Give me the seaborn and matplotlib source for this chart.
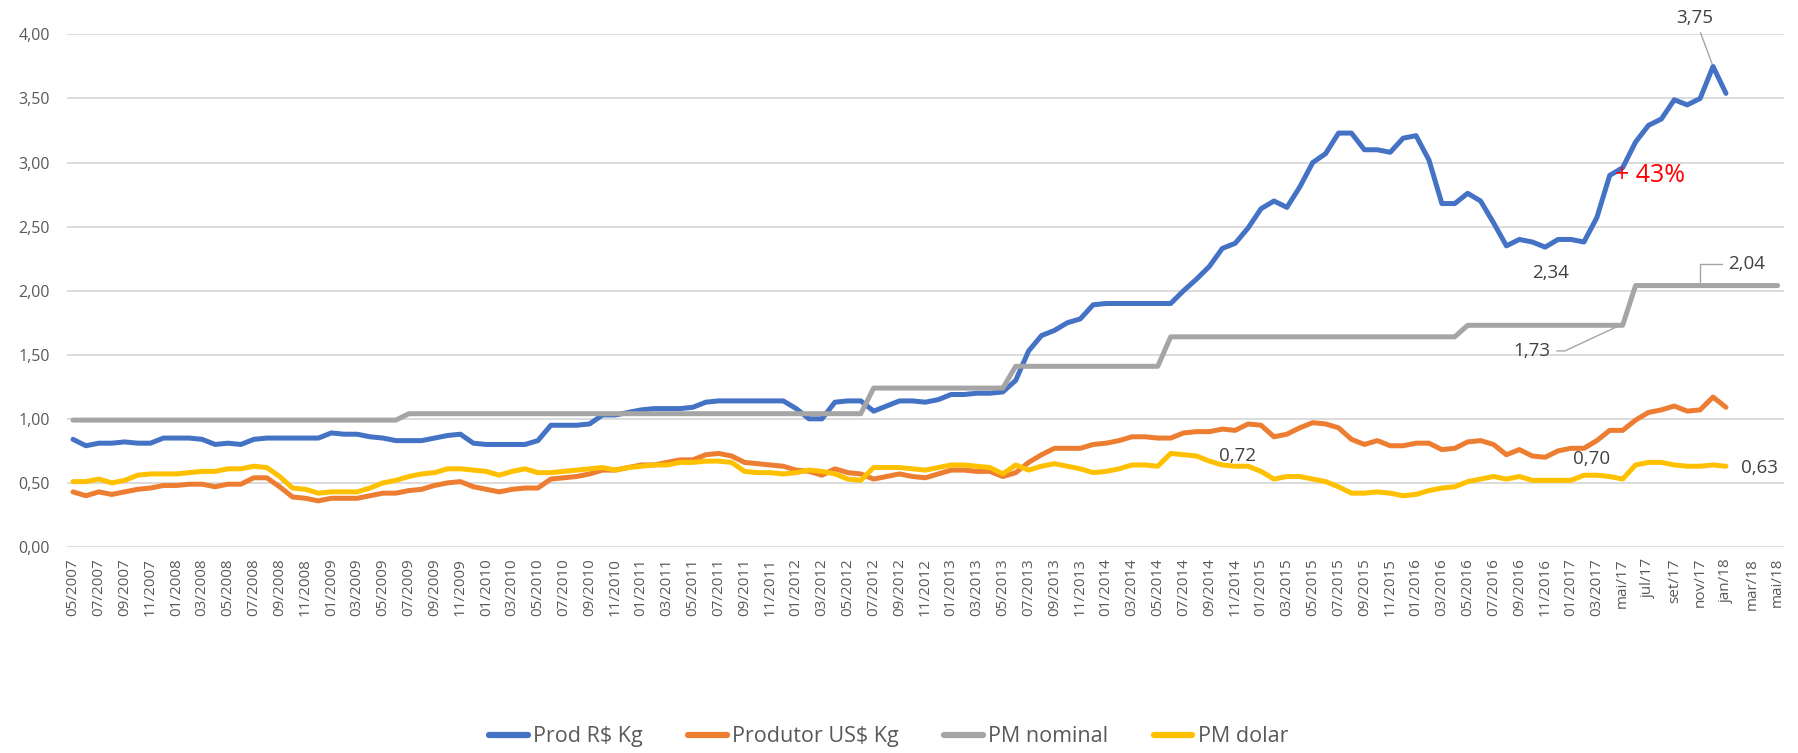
import numpy as np
import pandas as pd
import seaborn as sns
import matplotlib.pyplot as plt
from matplotlib.ticker import FuncFormatter

# --- data (monthly, 05/2007 .. 05/2018) ---
prod_rs_kg = [
    0.84, 0.79, 0.81, 0.81, 0.82, 0.81, 0.81, 0.85, 0.85, 0.85,
    0.84, 0.80, 0.81, 0.80, 0.84, 0.85, 0.85, 0.85, 0.85, 0.85,
    0.89, 0.88, 0.88, 0.86, 0.85, 0.83, 0.83, 0.83, 0.85, 0.87,
    0.88, 0.81, 0.80, 0.80, 0.80, 0.80, 0.83, 0.95, 0.95, 0.95,
    0.96, 1.03, 1.03, 1.05, 1.07, 1.08, 1.08, 1.08, 1.09, 1.13,
    1.14, 1.14, 1.14, 1.14, 1.14, 1.14, 1.08, 1.00, 1.00, 1.13,
    1.14, 1.14, 1.06, 1.10, 1.14, 1.14, 1.13, 1.15, 1.19, 1.19,
    1.20, 1.20, 1.21, 1.30, 1.53, 1.65, 1.69, 1.75, 1.78, 1.89,
    1.90, 1.90, 1.90, 1.90, 1.90, 1.90, 2.00, 2.09, 2.19, 2.33,
    2.37, 2.49, 2.64, 2.70, 2.65, 2.81, 3.00, 3.07, 3.23, 3.23,
    3.10, 3.10, 3.08, 3.19, 3.21, 3.02, 2.68, 2.68, 2.76, 2.70,
    2.53, 2.35, 2.40, 2.38, 2.34, 2.40, 2.40, 2.38, 2.57, 2.90,
    2.96, 3.16, 3.29, 3.34, 3.49, 3.45, 3.50, 3.75, 3.54,
]
produtor_us_kg = [
    0.43, 0.40, 0.43, 0.41, 0.43, 0.45, 0.46, 0.48, 0.48, 0.49,
    0.49, 0.47, 0.49, 0.49, 0.54, 0.54, 0.47, 0.39, 0.38, 0.36,
    0.38, 0.38, 0.38, 0.40, 0.42, 0.42, 0.44, 0.45, 0.48, 0.50,
    0.51, 0.47, 0.45, 0.43, 0.45, 0.46, 0.46, 0.53, 0.54, 0.55,
    0.57, 0.60, 0.60, 0.62, 0.64, 0.64, 0.66, 0.68, 0.68, 0.72,
    0.73, 0.71, 0.66, 0.65, 0.64, 0.63, 0.60, 0.59, 0.56, 0.61,
    0.58, 0.57, 0.53, 0.55, 0.57, 0.55, 0.54, 0.57, 0.60, 0.60,
    0.59, 0.59, 0.55, 0.58, 0.66, 0.72, 0.77, 0.77, 0.77, 0.80,
    0.81, 0.83, 0.86, 0.86, 0.85, 0.85, 0.89, 0.90, 0.90, 0.92,
    0.91, 0.96, 0.95, 0.86, 0.88, 0.93, 0.97, 0.96, 0.93, 0.84,
    0.80, 0.83, 0.79, 0.79, 0.81, 0.81, 0.76, 0.77, 0.82, 0.83,
    0.80, 0.72, 0.76, 0.71, 0.70, 0.75, 0.77, 0.77, 0.83, 0.91,
    0.91, 0.99, 1.05, 1.07, 1.10, 1.06, 1.07, 1.17, 1.09,
]
pm_nominal = [
    0.99, 0.99, 0.99, 0.99, 0.99, 0.99, 0.99, 0.99, 0.99, 0.99,
    0.99, 0.99, 0.99, 0.99, 0.99, 0.99, 0.99, 0.99, 0.99, 0.99,
    0.99, 0.99, 0.99, 0.99, 0.99, 0.99, 1.04, 1.04, 1.04, 1.04,
    1.04, 1.04, 1.04, 1.04, 1.04, 1.04, 1.04, 1.04, 1.04, 1.04,
    1.04, 1.04, 1.04, 1.04, 1.04, 1.04, 1.04, 1.04, 1.04, 1.04,
    1.04, 1.04, 1.04, 1.04, 1.04, 1.04, 1.04, 1.04, 1.04, 1.04,
    1.04, 1.04, 1.24, 1.24, 1.24, 1.24, 1.24, 1.24, 1.24, 1.24,
    1.24, 1.24, 1.24, 1.41, 1.41, 1.41, 1.41, 1.41, 1.41, 1.41,
    1.41, 1.41, 1.41, 1.41, 1.41, 1.64, 1.64, 1.64, 1.64, 1.64,
    1.64, 1.64, 1.64, 1.64, 1.64, 1.64, 1.64, 1.64, 1.64, 1.64,
    1.64, 1.64, 1.64, 1.64, 1.64, 1.64, 1.64, 1.64, 1.73, 1.73,
    1.73, 1.73, 1.73, 1.73, 1.73, 1.73, 1.73, 1.73, 1.73, 1.73,
    1.73, 2.04, 2.04, 2.04, 2.04, 2.04, 2.04, 2.04, 2.04, 2.04,
    2.04, 2.04, 2.04,
]
pm_dolar = [
    0.51, 0.51, 0.53, 0.50, 0.52, 0.56, 0.57, 0.57, 0.57, 0.58,
    0.59, 0.59, 0.61, 0.61, 0.63, 0.62, 0.55, 0.46, 0.45, 0.42,
    0.43, 0.43, 0.43, 0.46, 0.50, 0.52, 0.55, 0.57, 0.58, 0.61,
    0.61, 0.60, 0.59, 0.56, 0.59, 0.61, 0.58, 0.58, 0.59, 0.60,
    0.61, 0.62, 0.60, 0.62, 0.63, 0.64, 0.64, 0.66, 0.66, 0.67,
    0.67, 0.66, 0.59, 0.58, 0.58, 0.57, 0.58, 0.60, 0.59, 0.57,
    0.53, 0.52, 0.62, 0.62, 0.62, 0.61, 0.60, 0.62, 0.64, 0.64,
    0.63, 0.62, 0.57, 0.64, 0.60, 0.63, 0.65, 0.63, 0.61, 0.58,
    0.59, 0.61, 0.64, 0.64, 0.63, 0.73, 0.72, 0.71, 0.67, 0.64,
    0.63, 0.63, 0.59, 0.53, 0.55, 0.55, 0.53, 0.51, 0.47, 0.42,
    0.42, 0.43, 0.42, 0.40, 0.41, 0.44, 0.46, 0.47, 0.51, 0.53,
    0.55, 0.53, 0.55, 0.52, 0.52, 0.52, 0.52, 0.56, 0.56, 0.55,
    0.53, 0.64, 0.66, 0.66, 0.64, 0.63, 0.63, 0.64, 0.63,
]
tick_labels = [
    "05/2007", "07/2007", "09/2007", "11/2007",
    "01/2008", "03/2008", "05/2008", "07/2008", "09/2008", "11/2008",
    "01/2009", "03/2009", "05/2009", "07/2009", "09/2009", "11/2009",
    "01/2010", "03/2010", "05/2010", "07/2010", "09/2010", "11/2010",
    "01/2011", "03/2011", "05/2011", "07/2011", "09/2011", "11/2011",
    "01/2012", "03/2012", "05/2012", "07/2012", "09/2012", "11/2012",
    "01/2013", "03/2013", "05/2013", "07/2013", "09/2013", "11/2013",
    "01/2014", "03/2014", "05/2014", "07/2014", "09/2014", "11/2014",
    "01/2015", "03/2015", "05/2015", "07/2015", "09/2015", "11/2015",
    "01/2016", "03/2016", "05/2016", "07/2016", "09/2016", "11/2016",
    "01/2017", "03/2017",
    "mai/17", "jul/17", "set/17", "nov/17", "jan/18", "mar/18", "mai/18",
]
series_names = ["Prod R$ Kg", "Produtor US$ Kg", "PM nominal", "PM dolar"]
colors = ["#4472C4", "#ED7D31", "#A5A5A5", "#FFC000"]

n_months = len(pm_nominal)
meses = np.arange(n_months)

df = pd.DataFrame({"mes": meses})
for name, vals in zip(series_names, [prod_rs_kg, produtor_us_kg, pm_nominal, pm_dolar]):
    df[name] = pd.Series(vals).reindex(range(n_months))
long = df.melt(id_vars="mes", var_name="serie", value_name="valor").dropna()

# --- plot ---
sns.set_theme(style="white")
plt.rcParams['font.family'] = ['Open Sans', 'DejaVu Sans']

fig = plt.figure(figsize=(17.99, 7.53), dpi=100)
ax = fig.add_axes([0.037, 0.2736, 0.9547, 0.6807])

sns.lineplot(data=long, x="mes", y="valor", hue="serie", hue_order=series_names,
             palette=colors, linewidth=3.6, ax=ax, sort=True)
for line in ax.lines:
    line.set_solid_capstyle('round')
    line.set_solid_joinstyle('round')

ax.set_xlim(-0.5, n_months - 0.5)
ax.set_ylim(0, 4)
ax.set_yticks(np.arange(0, 4.01, 0.5))
ax.yaxis.set_major_formatter(FuncFormatter(lambda v, p: f"{v:.2f}".replace(".", ",")))
ax.set_xticks(np.arange(0, n_months, 2))
ax.set_xticklabels(tick_labels, rotation=90, va="top")
ax.tick_params(axis="x", labelsize=11, colors="#595959", length=0, pad=8)
ax.tick_params(axis="y", labelsize=11.5, colors="#595959", length=0, pad=12)
ax.set_xlabel("")
ax.set_ylabel("")
ax.yaxis.grid(True, color="#d9d9d9", linewidth=1.3)
ax.xaxis.grid(False)
for s in ax.spines.values():
    s.set_visible(False)

# --- data labels ---
lbl = dict(fontsize=13.5, color="#404040", ha="center", va="center")
lead = dict(arrowstyle="-", color="#A5A5A5", lw=1.0, shrinkA=2, shrinkB=2)
ax.annotate("3,75", xy=(127, 3.75), xytext=(125.6, 4.13), annotation_clip=False,
            arrowprops=lead, **lbl)
ax.annotate("2,04", xy=(126, 2.05), xytext=(129.6, 2.21),
            arrowprops=dict(lead, connectionstyle="angle,angleA=0,angleB=90,rad=0"), **lbl)
ax.annotate("1,73", xy=(120, 1.74), xytext=(113, 1.53),
            arrowprops=dict(lead, connectionstyle="angle,angleA=0,angleB=25,rad=0"), **lbl)
ax.text(114.4, 2.14, "2,34", **lbl)
ax.text(90.2, 0.71, "0,72", **lbl)
ax.text(117.6, 0.685, "0,70", **lbl)
ax.text(130.6, 0.615, "0,63", **lbl)
ax.text(119.4, 2.90, "+ 43%", fontsize=18, color="red", ha="left", va="center")

# --- legend ---
handles, labels = ax.get_legend_handles_labels()
ax.get_legend().remove()
leg = fig.legend(handles, labels, loc="lower center", bbox_to_anchor=(0.494, -0.018),
                 ncol=4, frameon=False, fontsize=15.5, handlelength=1.8,
                 columnspacing=2.1, handletextpad=0.25)
for t in leg.get_texts():
    t.set_color("#595959")
for h in leg.legend_handles:
    h.set_linewidth(4.5)
    h.set_solid_capstyle('round')

fig.savefig("out.png", dpi=100)
